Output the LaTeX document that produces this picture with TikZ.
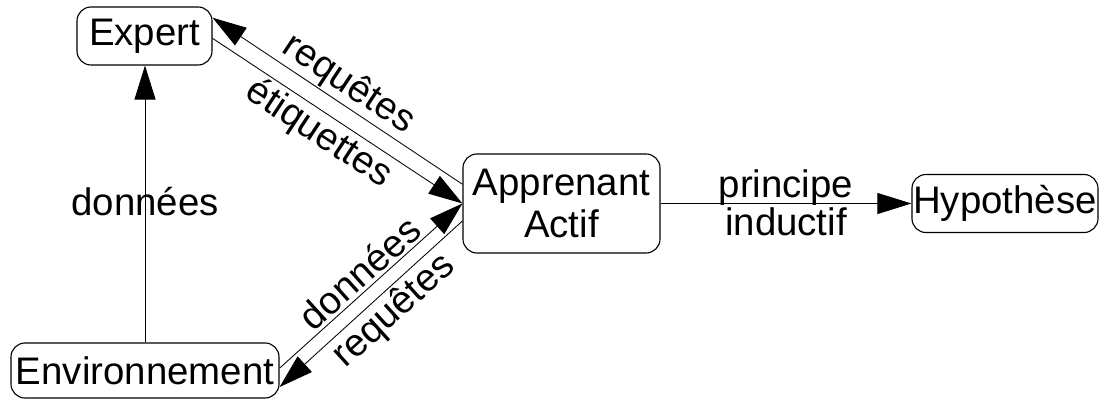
\documentclass[tikz,border=0pt]{standalone}
\usepackage{fontspec}
\setmainfont{Liberation Sans}
\usetikzlibrary{arrows.meta}
\begin{document}
\begin{tikzpicture}[x=.025cm,y=-.025cm,line join=round,line width=.6pt,font=\fontsize{27.3}{30.5}\selectfont,
	box/.style={draw,line width=.8pt,rounded corners=.35cm,align=center,inner sep=0pt},
	fl/.style={-{Triangle[length=.85cm,width=.525cm]}}]
	\useasboundingbox (0,0) rectangle (1100,399);
	\path
	(144.5,36) node[box,minimum width=3.375cm,minimum height=1.45cm] (expert) {Expert}
	(561.5,203.5) node[box,minimum width=4.925cm,minimum height=2.475cm] (app) {Apprenant\\Actif}
	(1005,203.5) node[box,minimum width=4.65cm,minimum height=1.45cm] (hyp) {Hypothèse}
	(145,370.5) node[box,minimum width=6.7cm,minimum height=1.375cm] (env) {Environnement}
	;
	\draw[fl] (env.north) -- node[pos=.51]{données} (env.north |- expert.south);
	\draw[fl] (app.169.4) -- node[sloped,above,inner sep=1pt]{requêtes} (expert.15);
	\draw[fl] (expert.-2) -- node[sloped,below,pos=.47,inner sep=2pt]{étiquettes} (app.west);
	\draw[fl] (env.1.5) -- node[sloped,above,inner sep=2pt]{données} (app.west);
	\draw[fl] (app.190.6) -- node[sloped,below,pos=.45,inner sep=2pt]{requêtes} (env.-7);
	\draw[fl] (app.east) -- node[above,inner sep=0pt,yshift=-.05cm]{principe} node[below,inner sep=3pt]{inductif} (hyp.west);
\end{tikzpicture}
\end{document}
